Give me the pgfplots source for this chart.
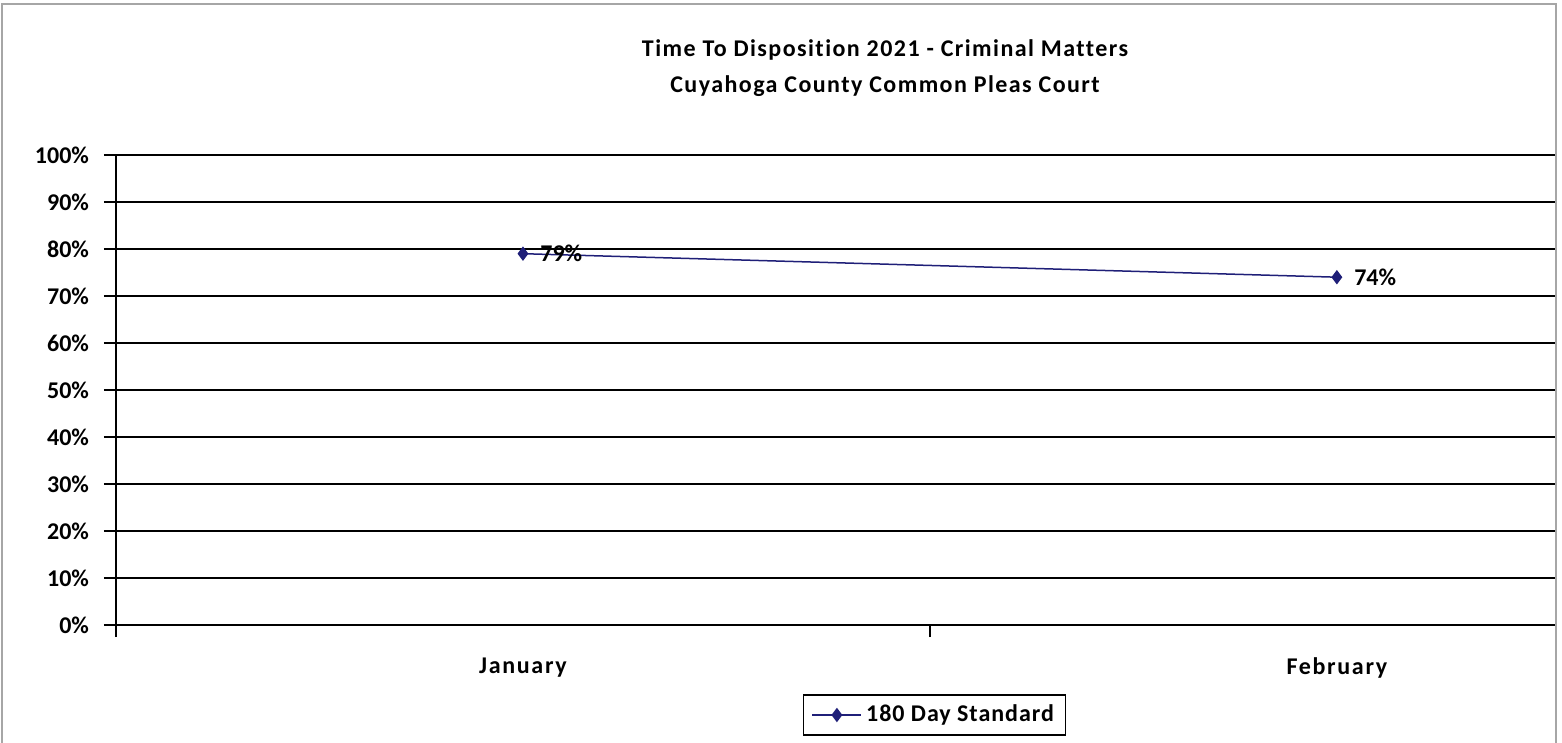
\documentclass[border=0pt]{standalone}
\usepackage{pgfplots}
\pgfplotsset{compat=1.18}
\usepackage{fontspec}
\setmainfont{Carlito}[Ligatures=NoCommon]
\newfontfamily\titlefont{Carlito}[Ligatures=NoCommon,LetterSpace=6]
\newfontfamily\catfont{Carlito}[Ligatures=NoCommon,LetterSpace=7]
\newfontfamily\legfont{Carlito}[Ligatures=NoCommon,LetterSpace=4]
\definecolor{navy}{HTML}{1F1F78}
\begin{document}
\begin{tikzpicture}[x=0.5pt,y=0.5pt,font=\fontsize{12}{18}\selectfont\bfseries]
\useasboundingbox (0,0) rectangle (1562,743);
\draw[black!35,line width=0.6pt] (2,-200) -- (2,739) -- (1556,739) -- (1556,-200);
\node[align=center,font=\titlefont\fontsize{12}{18}\selectfont\bfseries] at (885,675) {Time To Disposition 2021 - Criminal Matters\\Cuyahoga County Common Pleas Court};
\begin{axis}[
  at={(58pt,59pt)}, anchor=south west,
  scale only axis, width=719.5pt, height=235pt,
  xmin=0, xmax=1.768, ymin=0, ymax=100,
  axis x line*=bottom, axis y line*=left,
  axis line style={black,line width=0.8pt},
  ymajorgrids, major grid style={black,line width=0.8pt},
  tick align=outside, major tick length=6pt,
  tick style={black,line width=0.8pt},
  ytick={0,10,...,100},
  yticklabels={0\%,10\%,20\%,30\%,40\%,50\%,60\%,70\%,80\%,90\%,100\%},
  yticklabel style={xshift=-4pt},
  xtick={0,1}, xticklabels={},
  extra x ticks={0.5,1.5},
  extra x tick labels={January,February},
  extra x tick style={major tick length=0pt,
    xticklabel style={yshift=-13pt,font=\catfont\fontsize{12}{14}\selectfont\bfseries}},
  clip=false,
  legend style={at={(0.569,-0.1915)}, anchor=center, draw=black, line width=0.6pt,
    inner xsep=4pt, inner ysep=3pt, font=\legfont\fontsize{12}{14}\selectfont\bfseries},
  legend image code/.code={\draw[mark repeat=2,mark phase=2] plot coordinates {(0cm,0cm)(0.43cm,0cm)(0.86cm,0cm)};},
]
\addplot[navy, line width=0.75pt, mark=diamond*, mark size=3pt,
  point meta=explicit symbolic, nodes near coords,
  nodes near coords style={anchor=west, xshift=5pt, black}]
  coordinates {(0.5,79) [79\%] (1.5,74) [74\%]};
\addlegendentry{180 Day Standard}
\end{axis}
\end{tikzpicture}
\end{document}
